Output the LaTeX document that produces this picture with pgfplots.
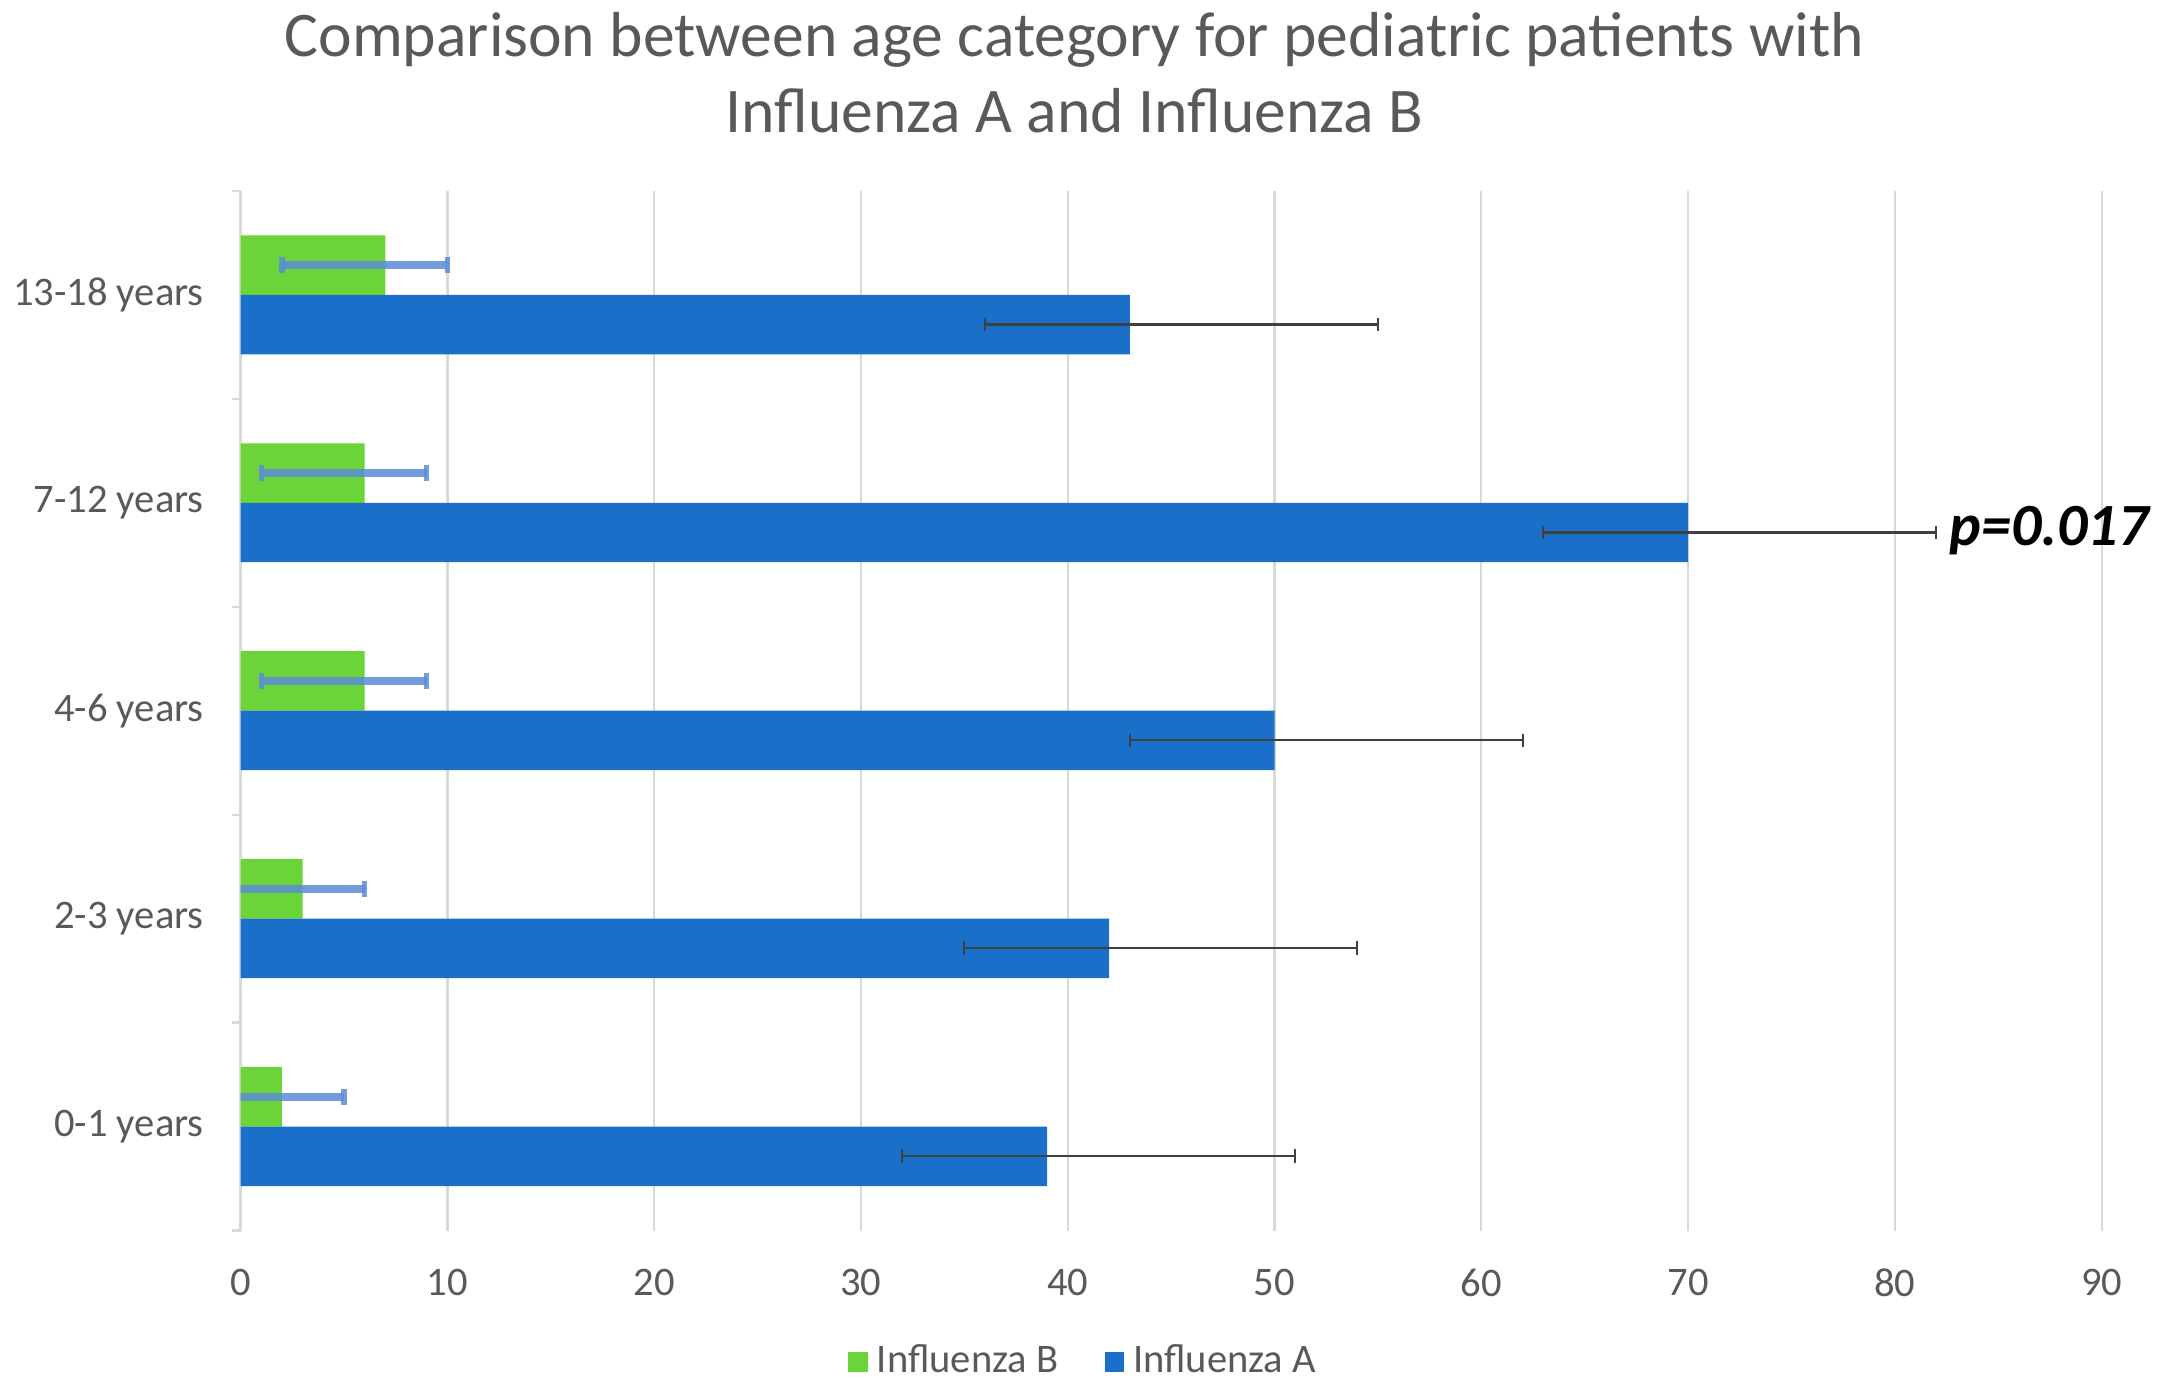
\documentclass[border=0pt]{standalone}
\usepackage{pgfplots}
\pgfplotsset{compat=1.18}
\usepackage{fontspec}
\setmainfont{Carlito}

\definecolor{txt}{RGB}{89,89,89}
\definecolor{gridc}{RGB}{217,217,217}
\definecolor{fluA}{RGB}{26,112,200}
\definecolor{fluB}{RGB}{107,212,56}
\definecolor{errB}{RGB}{90,140,215}
\definecolor{errA}{RGB}{64,64,64}

\begin{document}
\begin{tikzpicture}
\begin{axis}[
    name=ax,
    scale only axis,
    width=403.8pt,
    height=225.6pt,
    xbar,
    bar width=12.9pt,
    xmin=0, xmax=90,
    ymin=-0.5, ymax=4.5,
    xtick={0,10,...,90},
    ytick={0,1,2,3,4},
    yticklabels={0-1 years,2-3 years,4-6 years,7-12 years,13-18 years},
    extra y ticks={-0.5,0.5,1.5,2.5,3.5,4.5},
    extra y tick labels={},
    extra y tick style={major tick length=1.8pt, tick align=outside,
        tick style={gridc, line width=0.5pt}},
    major tick length=0pt,
    xtick pos=bottom, ytick pos=left,
    axis line style={draw=none},
    xmajorgrids=true,
    grid style={gridc, line width=0.5pt},
    tick label style={font=\fontsize{8.8}{10.5}\selectfont, text=txt},
    /pgf/number format/assume math mode=true,
    yticklabel style={inner sep=0pt, xshift=-7.8pt},
    xticklabel style={inner sep=0pt, yshift=-8.1pt},
    legend style={at={(axis description cs:0.4547,-0.1263)}, anchor=center,
        draw=none, fill=none, legend columns=2,
        font=\fontsize{8.8}{10.5}\selectfont, text=txt,
        /tikz/every even column/.append style={column sep=8pt}},
    legend image code/.code={\fill[#1,draw=none] (0.5pt,-2.1pt) rectangle (4.7pt,2.1pt);},
    clip mode=individual,
]
% Influenza B
\addplot+[draw=none, fill=fluB, bar shift=6.45pt,
    error bars/.cd, x dir=both, x explicit,
    error bar style={errB, opacity=0.85, line width=1.8pt},
    error mark options={errB, opacity=0.85, line width=1.2pt, mark size=1.8pt, rotate=90}]
coordinates {
    (2,0) += (3,0) -= (3,0)
    (3,1) += (3,0) -= (4,0)
    (6,2) += (3,0) -= (5,0)
    (6,3) += (3,0) -= (5,0)
    (7,4) += (3,0) -= (5,0)
};
% Influenza A
\addplot+[draw=none, fill=fluA, bar shift=-6.45pt,
    error bars/.cd, x dir=both, x explicit,
    error bar style={errA, line width=0.45pt},
    error mark options={errA, line width=0.45pt, mark size=1.5pt, rotate=90}]
coordinates {
    (39,0) += (12,0) -= (7,0)
    (42,1) += (12,0) -= (7,0)
    (50,2) += (12,0) -= (7,0)
    (70,3) += (12,0) -= (7,0)
    (43,4) += (12,0) -= (7,0)
};
\legend{Influenza B, Influenza A}
\node[anchor=base west, inner sep=0pt, font=\fontsize{13}{15}\selectfont\bfseries\itshape]
    at (axis cs:82.6,2.794) {p=0.017};
\end{axis}
\node[anchor=base, inner sep=0pt, text=txt, font=\fontsize{13.8}{16}\selectfont]
    at ([shift={(180.9pt,29.1pt)}]ax.north west)
    {Comparison between age category for pediatric patients with};
\node[anchor=base, inner sep=0pt, text=txt, font=\fontsize{13.8}{16}\selectfont]
    at ([shift={(180.9pt,12.6pt)}]ax.north west)
    {Influenza A and Influenza B};
\pgfresetboundingbox
\path ([shift={(-52.2pt,-34.8pt)}]ax.south west) rectangle ([shift={(14.4pt,41.4pt)}]ax.north east);
\end{tikzpicture}
\end{document}
